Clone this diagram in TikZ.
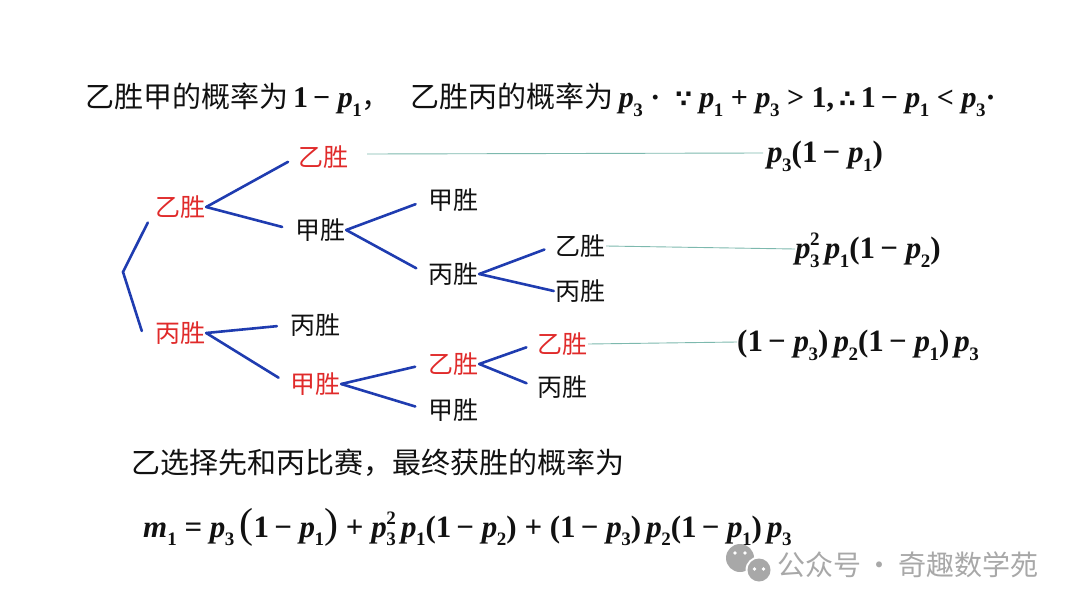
\documentclass[tikz,border=0pt]{standalone}
\usepackage{fontspec}
\usepackage{tikz}
\usetikzlibrary{positioning,calc}
\newfontfamily\cjk{Noto Sans CJK SC}
\newfontfamily\tms{Liberation Serif}
\newfontfamily\dvs{DejaVu Sans}
\definecolor{winred}{HTML}{E02A2A}
\definecolor{branch}{HTML}{1F3CB0}
\definecolor{lead}{HTML}{7DB9AE}
\definecolor{wmgray}{HTML}{A8A8A8}
\definecolor{ink}{HTML}{111111}
\newcommand{\Lx}{1080}
\newcommand{\Ly}{608}
\newcommand{\Fx}{767}
% bold-italic Times variables in text mode
\newcommand{\sbs}[1]{\raisebox{-0.28em}{\fontsize{19}{19}\selectfont #1}}
\newcommand{\sps}[1]{\raisebox{0.42em}{\fontsize{19}{19}\selectfont #1}}
\newcommand{\pv}[1]{\textit{p}\kern-0.5pt\sbs{#1}}
\newcommand{\pvv}[2]{\textit{p}\kern-0.5pt\rlap{\sps{#2}}\sbs{#1}}
\newcommand{\mi}{\,−\ }
\newcommand{\pl}{\ +\ }

\begin{document}
\begin{tikzpicture}[x=1pt,y=-1pt, every node/.style={text=ink, inner sep=1pt},
  lbl/.style={font=\cjk\fontsize{25}{30}\selectfont},
  won/.style={lbl, text=winred},
  big/.style={font=\fontsize{29}{35}\selectfont},
  prob/.style={font=\tms\bfseries\fontsize{31}{36}\selectfont, anchor=west, inner sep=0pt},
  arm/.style={draw=branch, line width=2.6pt, line cap=round},
  leader/.style={draw=lead, line width=0.9pt}]
\useasboundingbox (0,0) rectangle (\Lx,\Ly);
% ---- HEADER: the two single-game probabilities and the comparison
\node[big, anchor=west] (head) at (84,100)
  {{\cjk 乙胜甲的概率为}{\tms\bfseries\fontsize{30}{36}\selectfont\,1\mi\pv{1}}{\cjk ，}\hspace{20pt}{\cjk 乙胜丙的概率为}{\tms\bfseries\fontsize{30}{36}\selectfont\,\pv{3}\ ·\ \ {\dvs\bfseries\fontsize{24}{30}\selectfont ∵}\ \pv{1}\pl\pv{3}\ >\ 1,\,{\dvs\bfseries\fontsize{24}{30}\selectfont ∴}\,1\mi\pv{1}\ <\ \pv{3}·}};
% ---- TREE: level 1 (first game)
\coordinate (root) at (123,272);
\node[won] (y1) at (180,207) {乙胜};
\node[won] (b1) at (180,333) {丙胜};
\draw[arm] ($(y1.south west)+(-6,3)$) -- (root) -- ($(b1.west)+(-12,-2)$);
% ---- upper branch: 乙 beat 丙, now plays 甲
\node[won] (y2) at (323,157) {乙胜};
\node[lbl] (j2) at (320,230) {甲胜};
\draw[arm, shorten >=10pt] (y1.east) -- (y2.west);
\draw[arm, shorten >=12pt] (y1.east) -- (j2.west);
\node[lbl] (j3) at (453,200) {甲胜};
\node[lbl] (b3) at (453,274) {丙胜};
\draw[arm, shorten >=12pt] (j2.east) -- (j3.west);
\draw[arm, shorten >=12pt] (j2.east) -- (b3.west);
\node[lbl] (y4) at (580,246) {乙胜};
\node[lbl] (b4) at (580,291) {丙胜};
\draw[arm, shorten >=10pt] (b3.east) -- (y4.west);
\draw[arm] (b3.east) -- (b4.west);
% ---- lower branch: 丙 won, then 甲 plays 丙
\node[lbl] (b5) at (315,325) {丙胜};
\node[won] (j5) at (315,384) {甲胜};
\draw[arm, shorten >=12pt] (b1.east) -- (b5.west);
\draw[arm, shorten >=12pt] (b1.east) -- (j5.west);
\node[won] (y6) at (453,364) {乙胜};
\node[lbl] (j6) at (453,410) {甲胜};
\draw[arm, shorten >=12pt] (j5.east) -- (y6.west);
\draw[arm, shorten >=12pt] (j5.east) -- (j6.west);
\node[won] (y7) at (562,344) {乙胜};
\node[lbl] (b7) at (562,387) {丙胜};
\draw[arm, shorten >=10pt] (y6.east) -- (y7.west);
\draw[arm, shorten >=10pt] (y6.east) -- (b7.west);
% ---- LEADERS: each winning path to its probability
\node[prob] (f1) at (\Fx,156) {\pv{3}(1\mi\pv{1})};
\node[prob] (f2) at (795,250) {\pvv{3}{2}\,\pv{1}(1\mi\pv{2})};
\node[prob] (f3) at (737,345) {(1\mi\pv{3})\,\pv{2}(1\mi\pv{1})\,\pv{3}};
\draw[leader] ($(y2.east)+(18,-3)$) -- ($(f1.west)+(-4,-3)$);
\draw[leader] (y4.east) -- ($(f2.west)+(0,-1)$);
\draw[leader] (y7.east) -- ($(f3.west)+(0,-3)$);
% ---- TOTAL
\node[big, anchor=west] (sum) at (130,463) {\cjk 乙选择先和丙比赛，最终获胜的概率为};
\node[prob] (m1) at (143,527)
  {\textit{m}\sbs{1}\ =\ \pv{3}\,{\mdseries\fontsize{42}{42}\selectfont(}1\mi\pv{1}{\mdseries\fontsize{42}{42}\selectfont)}\pl\pvv{3}{2}\,\pv{1}(1\mi\pv{2})\pl(1\mi\pv{3})\,\pv{2}(1\mi\pv{1})\,\pv{3}};
% ---- watermark
\fill[wmgray] (740,558) circle (14pt);
\fill[white] (759,570) circle (13.5pt);
\fill[wmgray] (759,570) circle (11.5pt);
\foreach \dx in {-4.5,4.5} { \fill[white] (759+\dx,569) circle (1.8pt); }
\foreach \dx in {-5,5} { \fill[white] (740+\dx,553) circle (1.8pt); }
\node[font=\cjk\fontsize{28}{32}\selectfont, text=wmgray, anchor=west] (wm) at (776,565) {公众号\,·\,奇趣数学苑};
\end{tikzpicture}
\end{document}
